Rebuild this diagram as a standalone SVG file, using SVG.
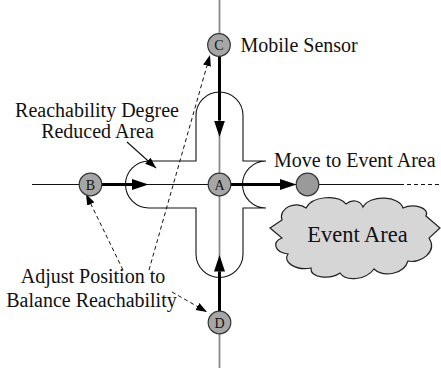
<svg xmlns="http://www.w3.org/2000/svg" width="441" height="374" viewBox="0 0 441 374" font-family="Liberation Serif, DejaVu Serif, serif">
<style>
.lbl{font-size:20px;fill:#111}
.nl{font-size:14px;fill:#111;text-anchor:middle}
.node{fill:#a6a6a6;stroke:#333;stroke-width:1.2}
.thin{stroke:#111;stroke-width:1.1;fill:none}
.grey{stroke:#8a8a8a;stroke-width:1.8;fill:none}
.thick{stroke:#000;stroke-width:3;fill:none}
.dash{stroke:#111;stroke-width:1;fill:none;stroke-dasharray:4,3}
</style>
<defs>
<marker id="big" markerUnits="userSpaceOnUse" markerWidth="17" markerHeight="12" refX="0" refY="5.5" orient="auto">
<path d="M0,0 L16.5,5.5 L0,11 z" fill="#000"/>
</marker>
<marker id="small" markerUnits="userSpaceOnUse" markerWidth="12" markerHeight="10" refX="11" refY="4" orient="auto">
<path d="M0,0 L11,4 L0,8 z" fill="#000"/>
</marker>
</defs>
<g id="area">
<path class="thin" d="M196,161 L196,115.5 A23.5,23.5 0 0 1 243,115.5 L243,161 L266,161 A23.5,23.5 0 0 0 266,208 L243,208 L243,254 A23.5,23.5 0 0 1 196,254 L196,208 L149,208 A23.5,23.5 0 0 1 149,161 Z"/>
</g>
<g id="event-area">
<path d="M270,228 L282,220 C278,208 296,200 306,208 C312,196 338,194 346,204 C352,199 360,200 363,207 C370,194 400,196 403,208 C414,203 430,208 426,216 L440,228 L429,238 C438,252 420,264 408,261 C404,274 384,278 374,269 C366,280 346,282 340,273 C330,280 310,278 311,268 C296,271 282,262 288,254 C274,252 272,242 282,238 Z" fill="#d6d6d6" stroke="#222" stroke-width="1.2"/>
<text class="lbl" x="357.5" y="241.7" text-anchor="middle" font-family="Liberation Serif" style="font-size:22.5px">Event Area</text>
</g>
<g id="connectors">
<line class="grey" x1="219.5" y1="0" x2="219.5" y2="368"/>
<line class="thin" x1="32" y1="184.5" x2="400" y2="184.5"/>
<line class="thin" x1="400" y1="184.5" x2="441" y2="184.5" stroke-dasharray="4,3"/>
<line class="thick" x1="219.5" y1="56" x2="219.5" y2="120.5" marker-end="url(#big)"/>
<line class="thick" x1="219.5" y1="311" x2="219.5" y2="271.5" marker-end="url(#big)"/>
<line class="thick" x1="102" y1="184.5" x2="132" y2="184.5" stroke-width="2.6" marker-end="url(#big)"/>
<line class="thick" x1="231" y1="184.5" x2="280" y2="184.5" stroke-width="2" marker-end="url(#big)"/>
<line class="dash" x1="149" y1="270" x2="210" y2="55" marker-end="url(#small)"/>
<line class="dash" x1="123" y1="270" x2="86" y2="194" marker-end="url(#small)"/>
<line class="dash" x1="172" y1="292" x2="207" y2="312" marker-end="url(#small)"/>
<line class="thin" x1="127" y1="142" x2="156" y2="168" stroke-width="1" marker-end="url(#small)"/>
</g>
<g id="C"><circle class="node" cx="219" cy="45" r="11.3"/><text class="nl" x="219" y="50" font-family="Liberation Serif">C</text></g>
<g id="A"><circle class="node" cx="219.5" cy="184.5" r="11.3"/><text class="nl" x="219.5" y="189.5" font-family="Liberation Serif">A</text></g>
<g id="B"><circle class="node" cx="90.5" cy="184.5" r="11.3"/><text class="nl" x="90.5" y="189.5" font-family="Liberation Serif">B</text></g>
<g id="D"><circle class="node" cx="219.5" cy="322.5" r="11.3"/><text class="nl" x="219.5" y="327.5" font-family="Liberation Serif">D</text></g>
<g id="target"><circle class="node" cx="307.5" cy="184.5" r="11.3" style="fill:#9a9a9a"/></g>
<g id="labels" font-family="Liberation Serif">
<text class="lbl" x="240.5" y="52.3">Mobile Sensor</text>
<text class="lbl" x="274" y="166.7">Move to Event Area</text>
<text class="lbl" x="97" y="116.7" text-anchor="middle">Reachability Degree</text>
<text class="lbl" x="97.5" y="138.3" text-anchor="middle">Reduced Area</text>
<text class="lbl" x="93" y="283.3" text-anchor="middle">Adjust Position to</text>
<text class="lbl" x="91.5" y="306.7" text-anchor="middle">Balance Reachability</text>
</g>
</svg>
